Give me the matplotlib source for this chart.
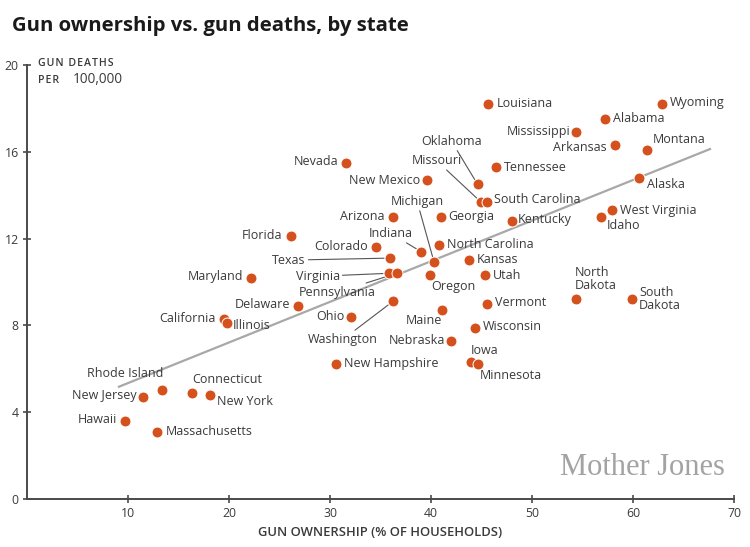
import matplotlib
matplotlib.use("Agg")
import matplotlib.pyplot as plt

plt.rcParams["font.family"] = ["Open Sans", "DejaVu Sans"]

# data
states = [
    "Wyoming", "Louisiana", "Alabama", "Mississippi", "Arkansas", "Montana",
    "Alaska", "Tennessee", "Nevada", "New Mexico", "Oklahoma", "Missouri",
    "South Carolina", "Georgia", "Arizona", "Kentucky", "West Virginia", "Idaho",
    "Florida", "Colorado", "Indiana", "North Carolina", "Texas", "Michigan",
    "Kansas", "Virginia", "Pennsylvania", "Oregon", "Utah", "Maryland",
    "Delaware", "California", "Illinois", "Ohio", "Washington", "Maine",
    "Vermont", "Wisconsin", "Nebraska", "Iowa", "Minnesota", "New Hampshire",
    "North Dakota", "South Dakota", "Rhode Island", "New Jersey", "Connecticut",
    "New York", "Hawaii", "Massachusetts",
]
ownership = [
    62.8, 45.6, 57.2, 54.3, 58.2, 61.4,
    60.6, 46.4, 31.6, 39.6, 44.6, 44.9,
    45.5, 41.0, 36.2, 48.0, 57.9, 56.8,
    26.1, 34.5, 39.0, 40.8, 35.9, 40.3,
    43.7, 35.8, 36.6, 39.9, 45.3, 22.2,
    26.8, 19.5, 19.8, 32.1, 36.2, 41.1,
    45.5, 44.3, 42.0, 43.9, 44.6, 30.6,
    54.3, 59.9, 13.4, 11.5, 16.3,
    18.1, 9.7, 12.9,
]
deaths = [
    18.2, 18.2, 17.5, 16.9, 16.3, 16.1,
    14.8, 15.3, 15.5, 14.7, 14.5, 13.7,
    13.7, 13.0, 13.0, 12.8, 13.3, 13.0,
    12.1, 11.6, 11.4, 11.7, 11.1, 10.9,
    11.0, 10.4, 10.4, 10.3, 10.3, 10.2,
    8.9, 8.3, 8.1, 8.4, 9.1, 8.7,
    9.0, 7.9, 7.3, 6.3, 6.2, 6.2,
    9.2, 9.2, 5.0, 4.7, 4.9,
    4.8, 3.6, 3.1,
]
trend_x = [9.1, 67.6]
trend_y = [5.17, 16.13]

x_ticks = [10, 20, 30, 40, 50, 60, 70]
y_ticks = [0, 4, 8, 12, 16, 20]

# label placement: offset in pixels from the dot, alignment
LABELS = {
    "Wyoming": (8, 2, "left"), "Louisiana": (9, 1, "left"),
    "Alabama": (8, 1, "left"), "Mississippi": (-5, 1, "right"),
    "Arkansas": (-8, -2, "right"), "Montana": (5, 10, "left"),
    "Alaska": (8, -7, "left"), "Tennessee": (8, 0, "left"),
    "Nevada": (-8, 1, "right"), "New Mexico": (-7, 0, "right"),
    "Oklahoma": (-26, 43, "center"), "Missouri": (-44, 41, "center"),
    "South Carolina": (7, 2, "left"), "Georgia": (7, 0, "left"),
    "Arizona": (-8, 0, "right"), "Kentucky": (6, 2, "left"),
    "West Virginia": (8, 0, "left"), "Idaho": (6, -9, "left"),
    "Florida": (-8, 1, "right"), "Colorado": (-8, 1, "right"),
    "Indiana": (-30, 18, "center"), "North Carolina": (8, 1, "left"),
    "Texas": (-84, -2, "right"), "Michigan": (-17, 61, "center"),
    "Kansas": (8, 1, "left"), "Virginia": (-49, -3, "right"),
    "Pennsylvania": (-60, -19, "center"), "Oregon": (1, -11, "left"),
    "Utah": (8, 0, "left"), "Maryland": (-8, 1, "right"),
    "Delaware": (-8, 1, "right"), "California": (-8, 0, "right"),
    "Illinois": (6, -2, "left"), "Ohio": (-7, 0, "right"),
    "Washington": (-50, -38, "center"), "Maine": (0, -10, "right"),
    "Vermont": (8, 1, "left"), "Wisconsin": (8, 1, "left"),
    "Nebraska": (-6, 0, "right"), "Iowa": (0, 12, "left"),
    "Minnesota": (2, -11, "left"), "New Hampshire": (8, 1, "left"),
    "North Dakota": (-1, 20, "left"), "South Dakota": (7, 0, "left"),
    "Rhode Island": (1, 17, "right"), "New Jersey": (-7, 1, "right"),
    "Connecticut": (1, 13, "left"), "New York": (7, -7, "left"),
    "Hawaii": (-8, 1, "right"), "Massachusetts": (8, 0, "left"),
}
LEADERS = {"Oklahoma", "Missouri", "Indiana", "Texas", "Michigan",
           "Virginia", "Pennsylvania", "Washington"}
MULTILINE = {"North Dakota": "North\nDakota", "South Dakota": "South\nDakota"}

DOT = "#d4501c"
TEXT = "#3a3a3a"
AXIS = "#4a4a4a"


def tracked(s):
    # small caps look: spread the letters a little
    return "\u200a".join(s)


fig = plt.figure(figsize=(7.5, 5.47), dpi=100)
ax = fig.add_axes([0.036, 0.088, 0.943, 0.793])

ax.plot(trend_x, trend_y, color="#a8a8a8", lw=1.6, zorder=2)
ax.scatter(ownership, deaths, s=62, color=DOT, edgecolors="white",
           linewidths=0.7, zorder=4)

for name, x, y in zip(states, ownership, deaths):
    dx, dy, ha = LABELS[name]
    kw = {}
    if name in LEADERS:
        kw["arrowprops"] = dict(arrowstyle="-", color="#555555", lw=0.8,
                                shrinkA=0, shrinkB=4)
    ax.annotate(MULTILINE.get(name, name), xy=(x, y), xytext=(dx, dy),
                textcoords="offset pixels", ha=ha, va="center",
                fontsize=9, color=TEXT, linespacing=1.0, zorder=3, **kw)

ax.set_xlim(0, 70)
ax.set_ylim(0, 20)
ax.set_xticks(x_ticks)
ax.set_yticks(y_ticks)
for side in ["top", "right"]:
    ax.spines[side].set_visible(False)
for side in ["left", "bottom"]:
    ax.spines[side].set_color(AXIS)
    ax.spines[side].set_linewidth(1.4)
ax.tick_params(direction="inout", length=6, width=1.2, color=AXIS,
               labelsize=8.8, labelcolor=TEXT, pad=3)

fig.text(0.016, 0.953, "Gun ownership vs. gun deaths, by state",
         fontsize=14.7, fontweight="bold", color="#1a1a1a", va="center")

# y axis title in small caps
fig.text(0.05, 0.884, tracked("GUN DEATHS"), fontsize=7.6, fontweight="semibold",
         color=TEXT, va="center")
fig.text(0.05, 0.853, tracked("PER"), fontsize=7.6, fontweight="semibold",
         color=TEXT, va="center")
fig.text(0.097, 0.855, "100,000", fontsize=9.8, color=TEXT, va="center")

fig.text(0.507, 0.026, "GUN OWNERSHIP (% OF HOUSEHOLDS)", fontsize=9.4,
         fontweight="semibold", color=TEXT, ha="center", va="center")

fig.text(0.857, 0.145, "Mother Jones", fontsize=22, color="#a3a3a3",
         family=["Liberation Serif", "DejaVu Serif"], ha="center", va="center")

fig.savefig("out.png", dpi=100)
